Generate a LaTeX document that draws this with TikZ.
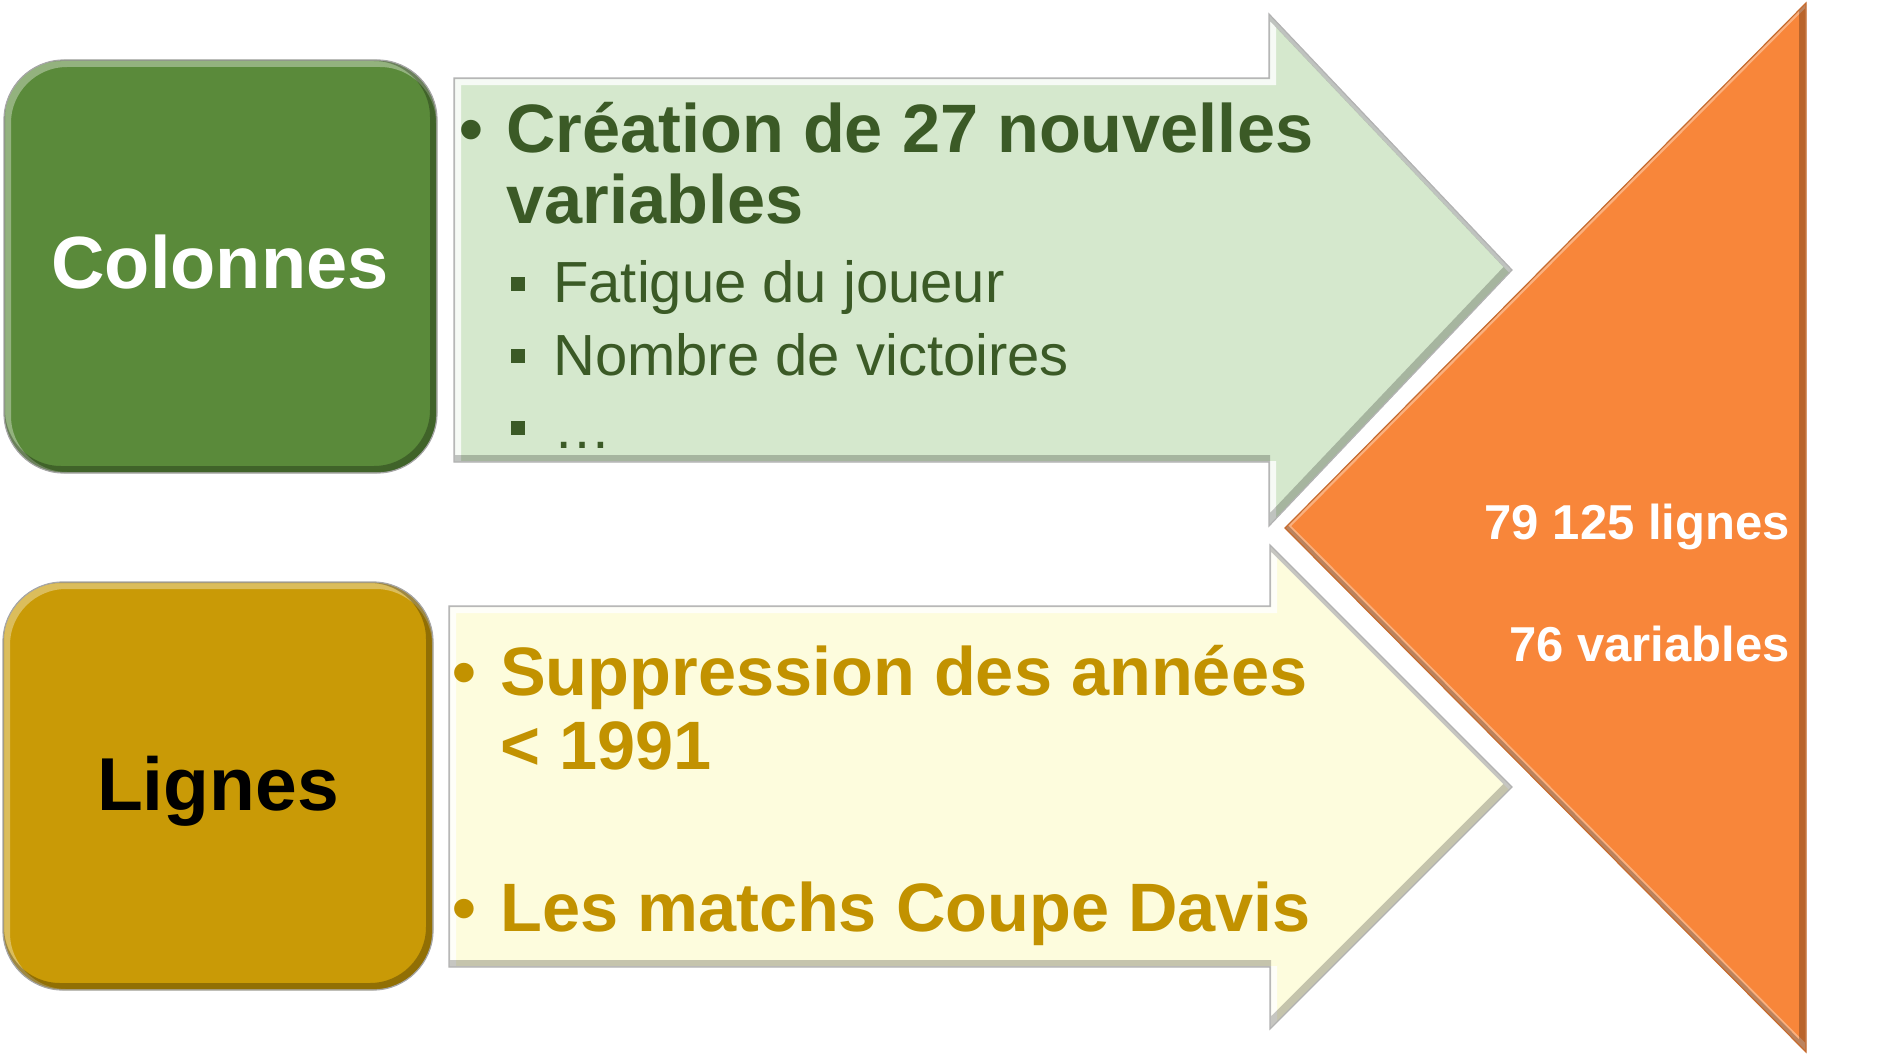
\documentclass[tikz,border=0pt]{standalone}
\usepackage{fontspec}
\setmainfont{Liberation Sans}
\definecolor{boxgreen}{HTML}{5A8A3A}
\definecolor{boxgold}{HTML}{C99A06}
\definecolor{arrgreen}{HTML}{D5E8CD}
\definecolor{arryellow}{HTML}{FDFCDD}
\definecolor{orangetri}{HTML}{F8863A}
\definecolor{txtgreen}{HTML}{3B5A26}
\definecolor{txtgold}{HTML}{C29200}
\newcommand\fs[1]{\fontsize{#1}{#1}\selectfont}
\tikzset{
  lbl/.style={inner sep=0pt, anchor=base west},
  hilite/.style={white, opacity=.35, line width=8pt, shift={(3,3)}},
  shade/.style={black, opacity=.28, line width=8pt, shift={(-3,-3)}},
  rim/.style={line width=1.2pt, draw=#1},
}
\begin{document}
\begin{tikzpicture}[x=1pt,y=-1pt]
\useasboundingbox (0,0) rectangle (1886,1057);
% ---------- rounded boxes ----------
\def\boxA{(4,60) rectangle (437,473)}
\def\boxB{(3,582) rectangle (433,990)}
\fill[boxgreen, rounded corners=60pt] \boxA;
\begin{scope}
  \clip[rounded corners=60pt] \boxA;
  \draw[hilite, rounded corners=60pt] \boxA;
  \draw[shade, rounded corners=60pt] \boxA;
\end{scope}
\draw[rim=gray!70, rounded corners=60pt] \boxA;
\fill[boxgold, rounded corners=60pt] \boxB;
\begin{scope}
  \clip[rounded corners=60pt] \boxB;
  \draw[hilite, rounded corners=60pt] \boxB;
  \draw[shade, rounded corners=60pt] \boxB;
\end{scope}
\draw[rim=gray!70, rounded corners=60pt] \boxB;
% ---------- arrows ----------
\def\arrA{(454,78) -- (1269,78) -- (1269,14) -- (1512,270) -- (1269,526) -- (1269,462) -- (454,462) -- cycle}
\def\arrB{(449,606) -- (1270,606) -- (1270,545) -- (1512,787) -- (1270,1029) -- (1270,967) -- (449,967) -- cycle}
\def\tri{(1285,528) -- (1806,3) -- (1806,1052) -- cycle}
\fill[arrgreen] \arrA;
\begin{scope}
  \clip \arrA;
  \draw[hilite, opacity=.8] \arrA;
  \draw[shade, opacity=.22] \arrA;
\end{scope}
\draw[rim=gray!60] \arrA;
\fill[arryellow] \arrB;
\begin{scope}
  \clip \arrB;
  \draw[hilite, opacity=.8] \arrB;
  \draw[shade, opacity=.22] \arrB;
\end{scope}
\draw[rim=gray!60] \arrB;
\fill[orangetri] \tri;
\begin{scope}
  \clip \tri;
  \draw[white, opacity=.35, line width=6pt, shift={(2,-2)}] \tri;
  \draw[shade, opacity=.25] \tri;
\end{scope}
\draw[rim=orangetri!80!black] \tri;
% ---------- texts ----------
\node[anchor=base, inner sep=0pt, font=\fs{74}\bfseries, text=white] (col) at (220,288) {Colonnes};
\node[anchor=base, inner sep=0pt, font=\fs{75}\bfseries, text=black] (lig) at (218,810) {Lignes};

\node[lbl, font=\fs{68}\bfseries, text=txtgreen] (gbul) at (459,152) {•};
\node[lbl, font=\fs{68.5}\bfseries, text=txtgreen] (g1) at (506,152) {Création de 27 nouvelles};
\node[lbl, font=\fs{68.5}\bfseries, text=txtgreen] (g2) at (506,223) {variables};
\node[fill=txtgreen, minimum size=14pt, inner sep=0pt] (q1) at (518,284) {};
\node[fill=txtgreen, minimum size=14pt, inner sep=0pt] (q2) at (518,356) {};
\node[fill=txtgreen, minimum size=14pt, inner sep=0pt] (q3) at (518,428) {};
\node[lbl, font=\fs{58}, text=txtgreen] (s1) at (553,302) {Fatigue du joueur};
\node[lbl, font=\fs{58}, text=txtgreen] (s2) at (553,375) {Nombre de victoires};
\node[lbl, font=\fs{58}, text=txtgreen] (s3) at (553,448) {…};

\node[lbl, font=\fs{68}\bfseries, text=txtgold] (ybul1) at (452,695) {•};
\node[lbl, font=\fs{68.5}\bfseries, text=txtgold] (y1) at (500,695) {Suppression des années};
\node[lbl, font=\fs{68.5}\bfseries, text=txtgold] (y2) at (500,769) {< 1991};
\node[lbl, font=\fs{68}\bfseries, text=txtgold] (ybul2) at (452,931) {•};
\node[lbl, font=\fs{68.5}\bfseries, text=txtgold] (y3) at (500,931) {Les matchs Coupe Davis};

\node[anchor=base east, inner sep=0pt, font=\fs{49}\bfseries, text=white] (o1) at (1790,539) {79 125 lignes};
\node[anchor=base east, inner sep=0pt, font=\fs{49}\bfseries, text=white] (o2) at (1790,661) {76 variables};
\end{tikzpicture}
\end{document}
